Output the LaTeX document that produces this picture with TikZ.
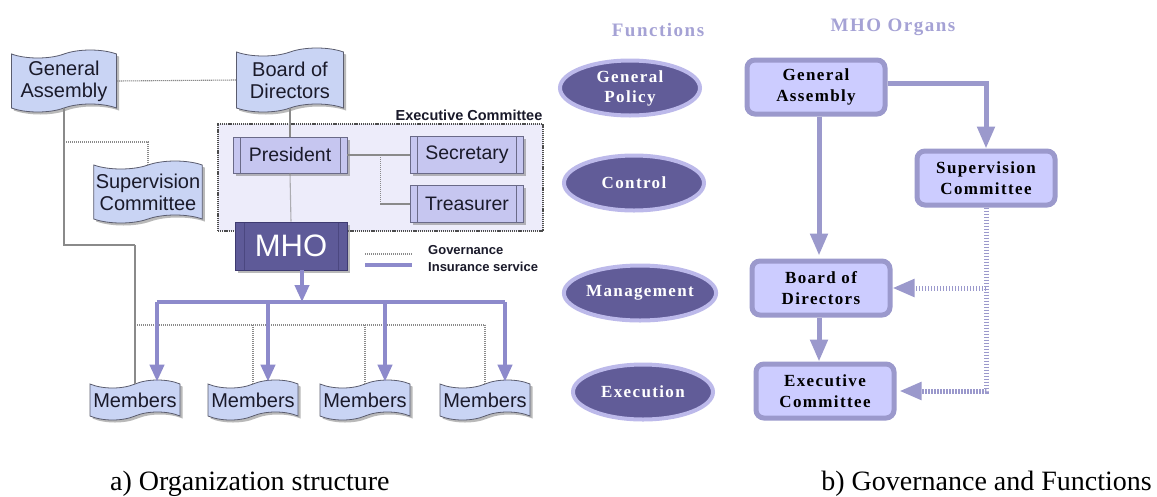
\documentclass[tikz,border=0pt]{standalone}
\usepackage{fontspec}
\setmainfont{Liberation Serif}
\newfontfamily\arialf{Liberation Sans}
\newfontfamily\timesls[LetterSpace=8]{Liberation Serif}
\usetikzlibrary{shapes.symbols,shapes.geometric,arrows.meta,shadows}
\definecolor{docfill}{HTML}{C9D4F4}
\definecolor{docdraw}{HTML}{5A5C6E}
\definecolor{procfill}{HTML}{C6C6F0}
\definecolor{procdraw}{HTML}{6A6A88}
\definecolor{execbg}{HTML}{EDECFA}
\definecolor{mhofill}{HTML}{5E5A98}
\definecolor{mhodraw}{HTML}{3E3A70}
\definecolor{insl}{HTML}{8D8ACB}
\definecolor{govgray}{HTML}{8A8A8A}
\definecolor{ellfill}{HTML}{615C98}
\definecolor{elldraw}{HTML}{BCB9EA}
\definecolor{boxfill}{HTML}{CCCCFF}
\definecolor{boxdraw}{HTML}{9B99CC}
\definecolor{titlec}{HTML}{A5A2D5}
\definecolor{txtdark}{HTML}{1A1A2A}
\begin{document}
\begin{tikzpicture}[x=1pt,y=-1pt,
  shad/.style={drop shadow={shadow xshift=2.5pt,shadow yshift=-2.5pt,fill=black!50,opacity=0.55}},
  doc/.style={tape, draw=docdraw, line width=0.8pt, fill=docfill, tape bend height=8pt,
    align=center, text=txtdark, inner sep=2pt, shad,
    font=\arialf\fontsize{20}{22}\selectfont},
  proc/.style={rectangle, draw=procdraw, line width=0.8pt, fill=procfill, text=txtdark, shad,
    font=\arialf\fontsize{19.5}{22}\selectfont,
    path picture={\draw[procdraw, line width=0.8pt]
      ([xshift=7pt]path picture bounding box.south west) -- ([xshift=7pt]path picture bounding box.north west)
      ([xshift=-7pt]path picture bounding box.south east) -- ([xshift=-7pt]path picture bounding box.north east);}},
  mho/.style={rectangle, draw=mhodraw, line width=0.8pt, fill=mhofill, text=white, shad,
    font=\arialf\fontsize{31}{34}\selectfont,
    path picture={\draw[mhodraw!60!mhofill, line width=1pt]
      ([xshift=9pt]path picture bounding box.south west) -- ([xshift=9pt]path picture bounding box.north west)
      ([xshift=-9pt]path picture bounding box.south east) -- ([xshift=-9pt]path picture bounding box.north east);}},
  execbox/.style={rectangle, draw=black!70, line width=1.1pt, dash pattern=on 1.2pt off 0.9pt, fill=execbg},
  gov/.style={draw=govgray, line width=1.1pt, dash pattern=on 1.2pt off 0.8pt},
  ins/.style={draw=insl, line width=4pt},
  insarr/.style={ins, -{Triangle[width=14pt,length=17pt]}},
  legend/.style={font=\arialf\bfseries\fontsize{13}{15}\selectfont, text=txtdark, inner sep=0pt},
  ell/.style={ellipse, draw=elldraw, line width=4pt, fill=ellfill, text=white, inner sep=0pt,
    minimum width=140pt, minimum height=55pt, align=center,
    font=\timesls\bfseries\fontsize{17}{20}\selectfont},
  obox/.style={rectangle, rounded corners=8pt, draw=boxdraw, line width=5pt, fill=boxfill,
    minimum width=138pt, minimum height=54pt, align=center, inner sep=0pt,
    font=\timesls\bfseries\fontsize{17}{20.5}\selectfont},
  arr/.style={draw=boxdraw, line width=5pt, -{Triangle[width=17pt,length=22pt]}},
  darr/.style={arr, dash pattern=on 1.5pt off 1.5pt},
  ttl/.style={text=titlec, font=\timesls\bfseries\fontsize{19}{22}\selectfont},
  captext/.style={font=\fontsize{28}{30}\selectfont, inner sep=0pt}
]
\useasboundingbox (0,0) rectangle (1157,496);
\fill[white] (0,0) rectangle (1157,496);

% ---------- left: organization structure ----------
\node[execbox, minimum width=325pt, minimum height=107pt, inner sep=0pt] (EXC) at (380.5,177.5) {};
\node[anchor=south east, inner sep=1pt, font=\arialf\bfseries\fontsize{14.5}{16}\selectfont, text=txtdark]
  (EXCl) at ([yshift=2pt]EXC.north east) {Executive Committee};

\node[doc, minimum width=105pt, minimum height=62pt] (GA) at (64,81) {General\\Assembly};
\node[doc, minimum width=107pt, minimum height=64pt] (BoD) at (290,80) {Board of\\Directors};
\node[doc, minimum width=105pt, minimum height=62pt] (SC) at (148,192) {Supervision\\Committee};

\node[proc, minimum width=114pt, minimum height=36pt] (Pres) at (290,155) {President};
\node[proc, minimum width=113pt, minimum height=37pt] (Sec) at (467,155) {Secretary};
\node[proc, minimum width=113pt, minimum height=37pt] (Tre) at (467,204) {Treasurer};
\node[mho, minimum width=112pt, minimum height=48pt] (MHO) at (291,246) {MHO};

\node[doc, minimum width=90pt, minimum height=40pt] (M1) at (135,400) {Members};
\node[doc, minimum width=90pt, minimum height=40pt] (M2) at (253,400) {Members};
\node[doc, minimum width=90pt, minimum height=40pt] (M3) at (365,400) {Members};
\node[doc, minimum width=90pt, minimum height=40pt] (M4) at (485,400) {Members};

% governance lines
\coordinate (g1) at (64,245);
\coordinate (g2) at (64,142);
\coordinate (h) at (0,325);
\draw[gov] (GA.east) -- (BoD.west);
\draw[gov] (GA.south) -- (g1) -| (M1.north);
\draw[gov] (g2) -| (SC.north);
\draw[gov] (BoD.south) -- (Pres.north);
\draw[gov] (Pres.south) -- (MHO.north);
\draw[gov] (Pres.east) -- ++(33,0) coordinate (pj) -- (Sec.west);
\draw[gov] (pj) |- (Tre.west);
\draw[gov] (M1.north |- h) -- (M4.north |- h);
\draw[gov] (M2.north |- h) -- (M2.north);
\draw[gov] (M3.north |- h) -- (M3.north);
\draw[gov] (M4.north |- h) -- (M4.north);

% insurance service arrows
\coordinate (ms) at (302,0);
\coordinate (bar) at (0,302);
\coordinate (b1) at (157,302);
\coordinate (b2) at (268,302);
\coordinate (b3) at (385,302);
\coordinate (b4) at (505,302);
\draw[insarr] (MHO.south -| ms) -- (ms |- bar);
\draw[ins] (b1) -- (b4);
\draw[insarr] (b1) -- ([yshift=2pt]b1 |- M1.north);
\draw[insarr] (b2) -- ([yshift=2pt]b2 |- M2.north);
\draw[insarr] (b3) -- ([yshift=2pt]b3 |- M3.north);
\draw[insarr] (b4) -- ([yshift=2pt]b4 |- M4.north);

% legend
\node[legend, anchor=west] (lg1) at (428,250) {Governance};
\node[legend, anchor=west] (lg2) at (428,267) {Insurance service};
\coordinate (l1a) at (365,254);
\coordinate (l1b) at (412,254);
\coordinate (l2a) at (365,265);
\coordinate (l2b) at (412,265);
\draw[gov] (l1a) -- (l1b);
\draw[ins] (l2a) -- (l2b);

% ---------- right: governance and functions ----------
\node[ttl] (tF) at (658,30) {Functions};
\node[ttl] (tM) at (893,27) {MHO Organs};

\node[ell] (fGP) at (630,88) {General\\Policy};
\node[ell] (fC) at (634,183) {Control};
\node[ell] (fM) at (640,293) {Management};
\node[ell] (fE) at (643,392) {Execution};

\node[obox] (oGA) at (816,87) {General\\Assembly};
\node[obox] (oSC) at (986,178) {Supervision\\Committee};
\node[obox] (oBD) at (821,288) {Board of\\Directors};
\node[obox] (oEC) at (825,391) {Executive\\Committee};

\coordinate (vx) at (819,0);
\draw[arr, shorten >=3pt] (oGA.south -| vx) -- (oBD.north -| vx);
\draw[arr] (oBD.south -| vx) -- (oEC.north -| vx);
\draw[arr] ([yshift=4pt]oGA.east) -| (oSC.north);
\draw[darr, shorten >=3pt] (oSC.south) |- (oEC.east);
\draw[darr] (oSC.south |- oBD.east) -- (oBD.east);

% captions
\node[captext, anchor=base west] (capA) at (110,490) {a) Organization structure};
\node[captext, anchor=base east] (capB) at (1152,490) {b) Governance and Functions};
\end{tikzpicture}
\end{document}
